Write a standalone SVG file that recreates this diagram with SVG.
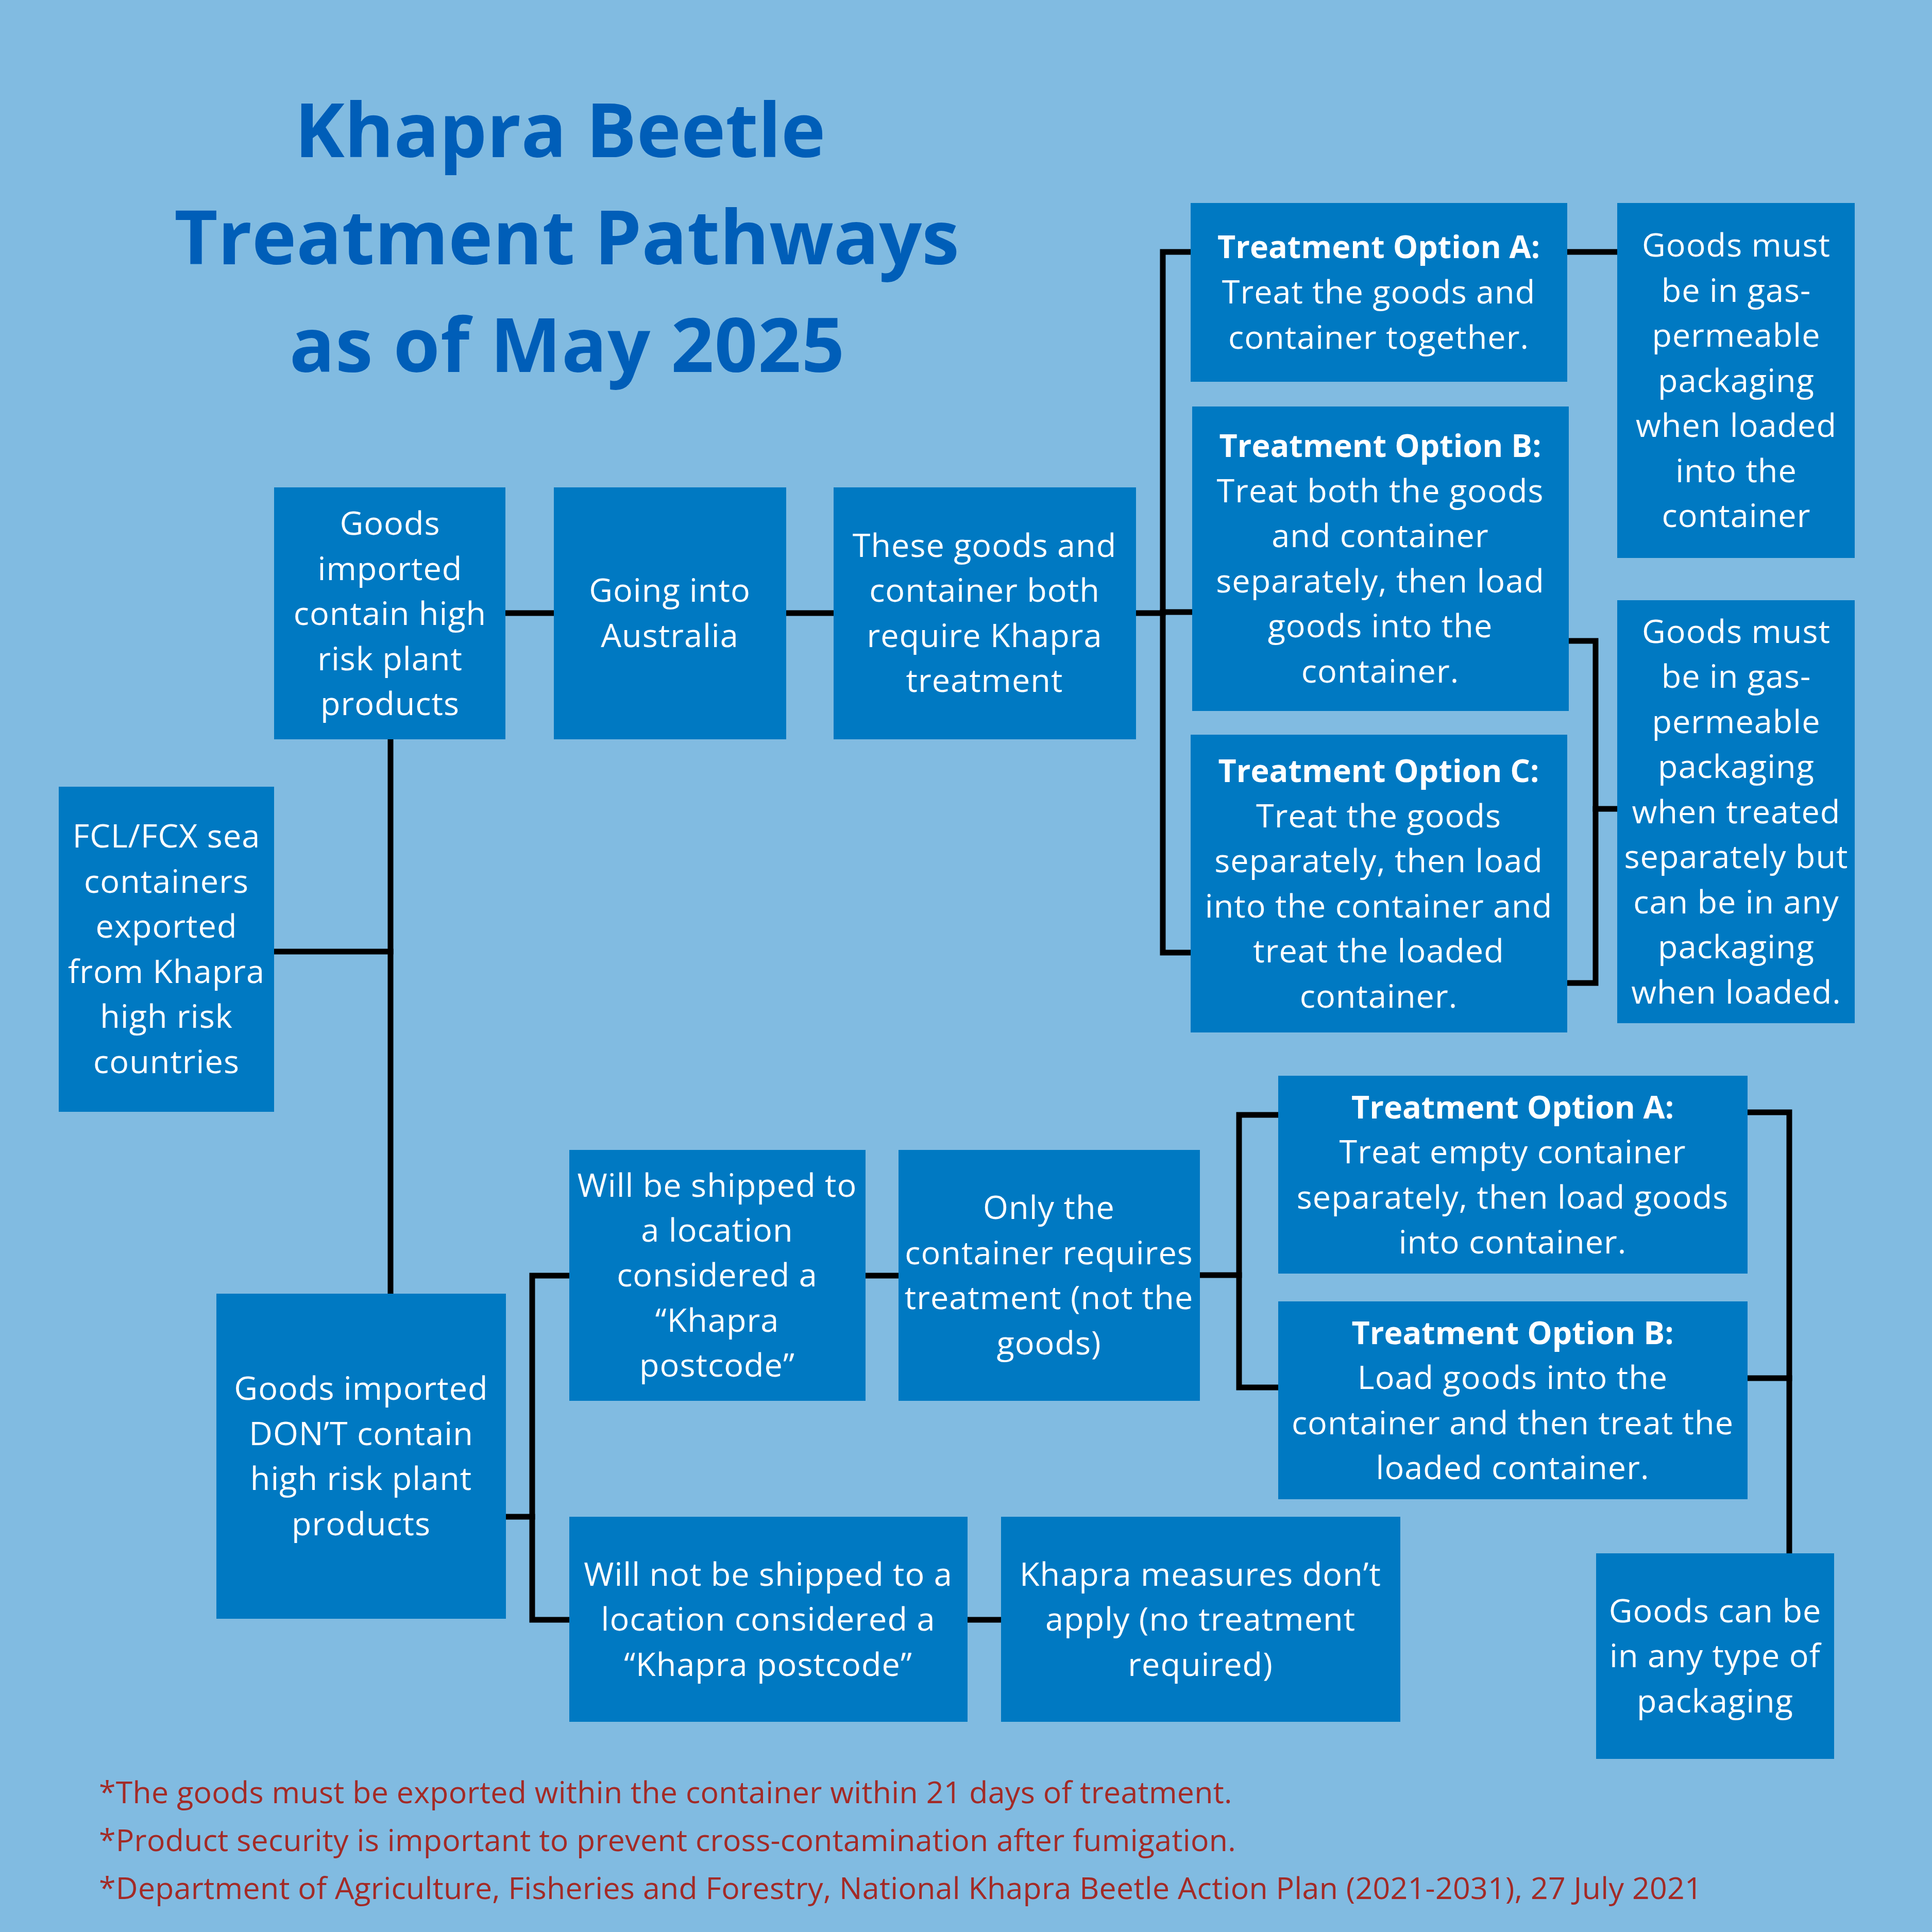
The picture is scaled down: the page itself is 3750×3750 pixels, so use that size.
<svg xmlns="http://www.w3.org/2000/svg" width="3750" height="3750" viewBox="0 0 3750 3750">
<style>
.box{fill:#0079C2}
.t{font-family:"Open Sans","Noto Sans",sans-serif;font-size:63px;letter-spacing:1px;fill:#ffffff;text-anchor:middle}
.b{font-weight:700;font-size:61px;letter-spacing:0px}
.title{font-family:"Open Sans","Noto Sans",sans-serif;font-weight:700;font-size:146px;fill:#005EB8;text-anchor:middle}
.note{font-family:"Open Sans","Noto Sans",sans-serif;font-size:59px;letter-spacing:0.3px;fill:#A32A26}
.c{fill:none;stroke:#000;stroke-width:11;stroke-linecap:square;stroke-linejoin:miter}
</style>
<rect width="3750" height="3750" fill="#81BBE1"/>
<g id="title">
<text class="title" x="1087" y="305">Khapra Beetle</text>
<text class="title" x="1100" y="513">Treatment Pathways</text>
<text class="title" x="1101" y="722" letter-spacing="1">as of May 2025</text>
</g>
<g id="connectors">
<path class="c" d="M532,1847 H758"/>
<path class="c" d="M758,1435 V2511"/>
<path class="c" d="M981,1190 H1075"/>
<path class="c" d="M1526,1190 H1618"/>
<path class="c" d="M2205,1190 H2257"/>
<path class="c" d="M2311,489 H2257 V1849 H2311"/>
<path class="c" d="M2257,1188 H2314"/>
<path class="c" d="M3042,489 H3139"/>
<path class="c" d="M3045,1244 H3097 V1908 H3042"/>
<path class="c" d="M3097,1570 H3139"/>
<path class="c" d="M982,2944 H1033"/>
<path class="c" d="M1105,2476 H1033 V3144 H1105"/>
<path class="c" d="M1680,2476 H1744"/>
<path class="c" d="M1878,3144 H1943"/>
<path class="c" d="M2329,2475 H2405"/>
<path class="c" d="M2481,2164 H2405 V2693 H2481"/>
<path class="c" d="M3392,2159 H3473 V3015"/>
<path class="c" d="M3392,2675 H3473"/>
</g>
<g id="n-high-risk">
<rect class="box" x="532" y="946" width="449" height="489"/>
<text class="t"><tspan x="757" y="1038">Goods</tspan><tspan x="757" y="1126">imported</tspan><tspan x="757" y="1213">contain high</tspan><tspan x="757" y="1301">risk plant</tspan><tspan x="757" y="1388">products</tspan></text>
</g>
<g id="n-australia">
<rect class="box" x="1075" y="946" width="451" height="489"/>
<text class="t"><tspan x="1300" y="1168">Going into</tspan><tspan x="1300" y="1256">Australia</tspan></text>
</g>
<g id="n-both">
<rect class="box" x="1618" y="946" width="587" height="489"/>
<text class="t"><tspan x="1911" y="1081">These goods and</tspan><tspan x="1911" y="1168">container both</tspan><tspan x="1911" y="1256">require Khapra</tspan><tspan x="1911" y="1343">treatment</tspan></text>
</g>
<g id="n-fcl">
<rect class="box" x="114" y="1527" width="418" height="631"/>
<text class="t"><tspan x="323" y="1645">FCL/FCX sea</tspan><tspan x="323" y="1733">containers</tspan><tspan x="323" y="1820">exported</tspan><tspan x="323" y="1908">from Khapra</tspan><tspan x="323" y="1995">high risk</tspan><tspan x="323" y="2083">countries</tspan></text>
</g>
<g id="n-optA">
<rect class="box" x="2311" y="394" width="731" height="347"/>
<text class="t"><tspan class="b" x="2676" y="501">Treatment Option A:</tspan><tspan x="2676" y="589">Treat the goods and</tspan><tspan x="2676" y="677">container together.</tspan></text>
</g>
<g id="n-optB">
<rect class="box" x="2314" y="789" width="731" height="591"/>
<text class="t"><tspan class="b" x="2679" y="887">Treatment Option B:</tspan><tspan x="2679" y="975">Treat both the goods</tspan><tspan x="2679" y="1062">and container</tspan><tspan x="2679" y="1150">separately, then load</tspan><tspan x="2679" y="1237">goods into the</tspan><tspan x="2679" y="1325">container.</tspan></text>
</g>
<g id="n-optC">
<rect class="box" x="2311" y="1426" width="731" height="578"/>
<text class="t"><tspan class="b" x="2676" y="1518">Treatment Option C:</tspan><tspan x="2676" y="1606">Treat the goods</tspan><tspan x="2676" y="1693">separately, then load</tspan><tspan x="2676" y="1781">into the container and</tspan><tspan x="2676" y="1868">treat the loaded</tspan><tspan x="2676" y="1956">container.</tspan></text>
</g>
<g id="n-gas1">
<rect class="box" x="3139" y="394" width="461" height="689"/>
<text class="t"><tspan x="3370" y="498">Goods must</tspan><tspan x="3370" y="586">be in gas-</tspan><tspan x="3370" y="673">permeable</tspan><tspan x="3370" y="761">packaging</tspan><tspan x="3370" y="848">when loaded</tspan><tspan x="3370" y="936">into the</tspan><tspan x="3370" y="1023">container</tspan></text>
</g>
<g id="n-gas2">
<rect class="box" x="3139" y="1165" width="461" height="821"/>
<text class="t"><tspan x="3370" y="1248">Goods must</tspan><tspan x="3370" y="1335">be in gas-</tspan><tspan x="3370" y="1423">permeable</tspan><tspan x="3370" y="1510">packaging</tspan><tspan x="3370" y="1598">when treated</tspan><tspan x="3370" y="1685">separately but</tspan><tspan x="3370" y="1773">can be in any</tspan><tspan x="3370" y="1860">packaging</tspan><tspan x="3370" y="1948">when loaded.</tspan></text>
</g>
<g id="n-dont">
<rect class="box" x="420" y="2511" width="562" height="631"/>
<text class="t"><tspan x="701" y="2717">Goods imported</tspan><tspan x="701" y="2805">DON’T contain</tspan><tspan x="701" y="2892">high risk plant</tspan><tspan x="701" y="2980">products</tspan></text>
</g>
<g id="n-postcode">
<rect class="box" x="1105" y="2232" width="575" height="487"/>
<text class="t"><tspan x="1392" y="2323">Will be shipped to</tspan><tspan x="1392" y="2410">a location</tspan><tspan x="1392" y="2497">considered a</tspan><tspan x="1392" y="2585">“Khapra</tspan><tspan x="1392" y="2672">postcode”</tspan></text>
</g>
<g id="n-container-only">
<rect class="box" x="1744" y="2232" width="585" height="487"/>
<text class="t"><tspan x="2036" y="2366">Only the</tspan><tspan x="2036" y="2454">container requires</tspan><tspan x="2036" y="2541">treatment (not the</tspan><tspan x="2036" y="2629">goods)</tspan></text>
</g>
<g id="n-lowA">
<rect class="box" x="2481" y="2088" width="911" height="384"/>
<text class="t"><tspan class="b" x="2936" y="2171">Treatment Option A:</tspan><tspan x="2936" y="2258">Treat empty container</tspan><tspan x="2936" y="2346">separately, then load goods</tspan><tspan x="2936" y="2433">into container.</tspan></text>
</g>
<g id="n-lowB">
<rect class="box" x="2481" y="2526" width="911" height="384"/>
<text class="t"><tspan class="b" x="2936" y="2609">Treatment Option B:</tspan><tspan x="2936" y="2696">Load goods into the</tspan><tspan x="2936" y="2784">container and then treat the</tspan><tspan x="2936" y="2871">loaded container.</tspan></text>
</g>
<g id="n-any">
<rect class="box" x="3098" y="3015" width="462" height="399"/>
<text class="t"><tspan x="3329" y="3149">Goods can be</tspan><tspan x="3329" y="3236">in any type of</tspan><tspan x="3329" y="3324">packaging</tspan></text>
</g>
<g id="n-not-postcode">
<rect class="box" x="1105" y="2944" width="773" height="398"/>
<text class="t"><tspan x="1491" y="3078">Will not be shipped to a</tspan><tspan x="1491" y="3165">location considered a</tspan><tspan x="1491" y="3253">“Khapra postcode”</tspan></text>
</g>
<g id="n-no-treatment">
<rect class="box" x="1943" y="2944" width="775" height="398"/>
<text class="t"><tspan x="2330" y="3078">Khapra measures don’t</tspan><tspan x="2330" y="3165">apply (no treatment</tspan><tspan x="2330" y="3253">required)</tspan></text>
</g>
<g id="notes">
<text class="note" x="192" y="3500">*The goods must be exported within the container within 21 days of treatment.</text>
<text class="note" x="192" y="3593">*Product security is important to prevent cross-contamination after fumigation.</text>
<text class="note" x="192" y="3686">*Department of Agriculture, Fisheries and Forestry, National Khapra Beetle Action Plan (2021-2031), 27 July 2021</text>
</g>
</svg>
